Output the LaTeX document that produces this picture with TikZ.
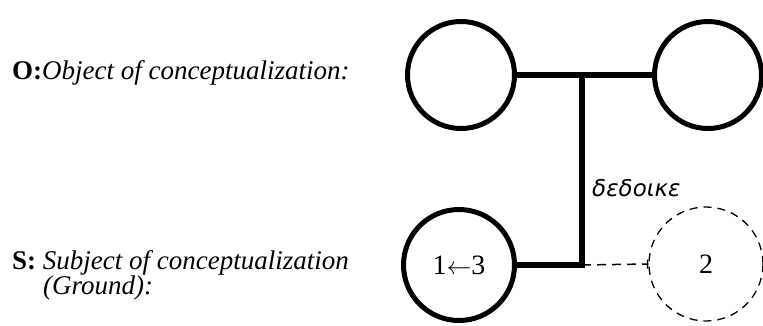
\documentclass[tikz,border=0pt]{standalone}
\usepackage{fontspec}
\setmainfont{Liberation Serif}
\newfontfamily\greekfont{DejaVu Sans}
\usetikzlibrary{arrows.meta}
\begin{document}
\begin{tikzpicture}[x=1pt,y=-1pt,
  circ/.style={draw,circle,line width=5pt,minimum size=107pt,inner sep=0pt},
  dcirc/.style={draw,circle,line width=1.3pt,dash pattern=on 8pt off 6pt,minimum size=114pt,inner sep=0pt},
  thickline/.style={line width=6pt,line join=miter},
  dline/.style={line width=1.5pt,dash pattern=on 9pt off 6pt},
  lab/.style={anchor=base west,inner sep=0pt,font=\fontsize{27}{30}\selectfont}]
\useasboundingbox (0,0) rectangle (763,325);
\node[circ] (o1) at (461,75) {};
\node[circ] (o2) at (708,75) {};
\node[circ,minimum size=111pt] (s1) at (459,265) {\fontsize{28}{30}\selectfont 1$\leftarrow$3};
\node[dcirc] (s2) at (706,264) {\fontsize{28}{30}\selectfont 2};
\coordinate (j1) at (582,75);
\coordinate (j2) at (582,265);
\draw[thickline] (o1.east) -- (o2.west);
\draw[thickline] (s1.east) -- (j2) -- (j1);
\draw[dline,-{Bar[width=9pt,line width=1.5pt]}] (j2) -- (s2.west);
\node[anchor=base west,inner sep=0pt,font=\fontsize{23}{26}\greekfont\itshape] (g) at (592,196) {δεδοικε};
\node[lab] (ol) at (12,79) {\textbf{O:}\textit{Object of conceptualization:}};
\node[lab] (sl) at (12,269) {\textbf{S:} \textit{Subject of conceptualization}};
\node[lab] (gl) at (43,294) {\textit{(Ground):}};
\end{tikzpicture}
\end{document}
